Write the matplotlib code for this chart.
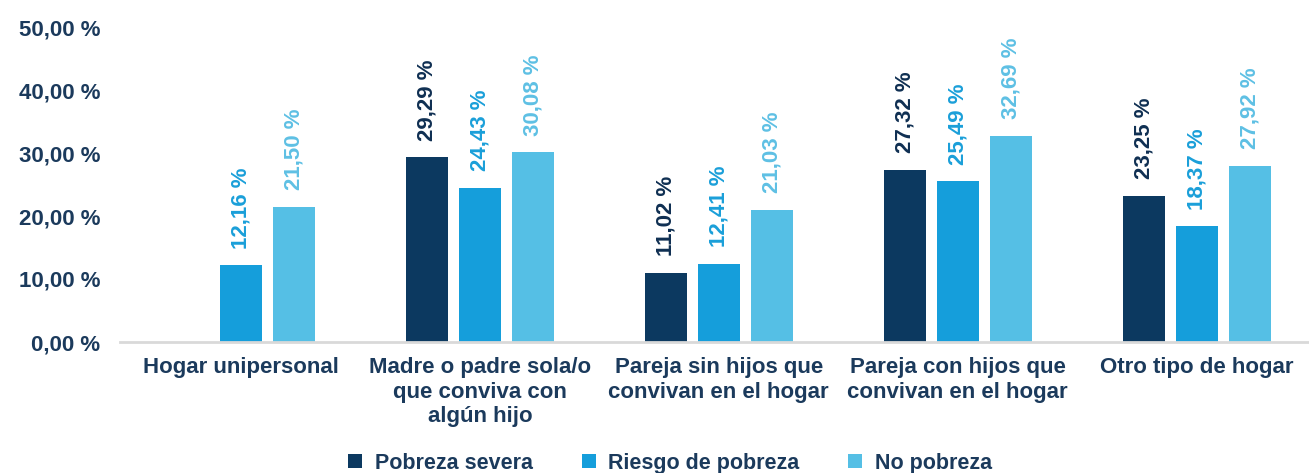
import numpy as np
import matplotlib
matplotlib.use('Agg')
import matplotlib.pyplot as plt

plt.rcParams['font.family'] = ['Liberation Sans', 'DejaVu Sans']
plt.rcParams['font.weight'] = 'bold'

categories = ['Hogar unipersonal',
              'Madre o padre sola/o\nque conviva con\nalgún hijo',
              'Pareja sin hijos que\nconvivan en el hogar',
              'Pareja con hijos que\nconvivan en el hogar',
              'Otro tipo de hogar']
series_names = ['Pobreza severa', 'Riesgo de pobreza', 'No pobreza']
pobreza_severa = [np.nan, 29.29, 11.02, 27.32, 23.25]
riesgo_pobreza = [12.16, 24.43, 12.41, 25.49, 18.37]
no_pobreza = [21.50, 30.08, 21.03, 32.69, 27.92]
yticks = [0, 10, 20, 30, 40, 50]

bar_colors = ['#0c3960', '#159edb', '#55bfe5']
label_colors = ['#0f2f52', '#1a9fd9', '#5ec0e4']
text_color = '#1b3a5c'

fig = plt.figure(figsize=(13.09, 4.73), dpi=100)
ax = fig.add_axes([120 / 1309, 131 / 473, 1189 / 1309, 315 / 473])

x = np.arange(len(categories))
step = 0.222
width = 0.176
for i, (vals, name) in enumerate(zip([pobreza_severa, riesgo_pobreza, no_pobreza], series_names)):
    pos = x + (i - 1) * step
    ax.bar(pos, vals, width=width, color=bar_colors[i], label=name)
    for p, v in zip(pos, vals):
        if np.isnan(v):
            continue
        ax.annotate(f'{v:.2f} %'.replace('.', ','), (p, v), xytext=(0, 12),
                    textcoords='offset points', rotation=90, ha='center', va='bottom',
                    fontsize=16, fontweight='bold', color=label_colors[i])

ax.set_xlim(-0.506, 4.47)
ax.set_ylim(0, 50)
ax.set_yticks(yticks)
ax.set_yticklabels([f'{t:.2f} %'.replace('.', ',') for t in yticks])
ax.set_xticks(x)
ax.set_xticklabels(categories, linespacing=1.22)
ax.tick_params(axis='both', length=0, labelsize=16, labelcolor=text_color)
ax.tick_params(axis='y', pad=14)
ax.tick_params(axis='x', pad=11)
for lab in ax.get_xticklabels() + ax.get_yticklabels():
    lab.set_fontweight('bold')

for s in ['top', 'right', 'left']:
    ax.spines[s].set_visible(False)
ax.spines['bottom'].set_color('#d9d9d9')
ax.spines['bottom'].set_linewidth(2)

leg = fig.legend(loc='center', bbox_to_anchor=(0.512, 0.021), ncol=3, frameon=False,
                 fontsize=15.5, handlelength=0.65, handleheight=0.65, handletextpad=0.6,
                 columnspacing=2.25)
for t in leg.get_texts():
    t.set_color(text_color)
    t.set_fontweight('bold')

fig.savefig('out.png', dpi=100)
